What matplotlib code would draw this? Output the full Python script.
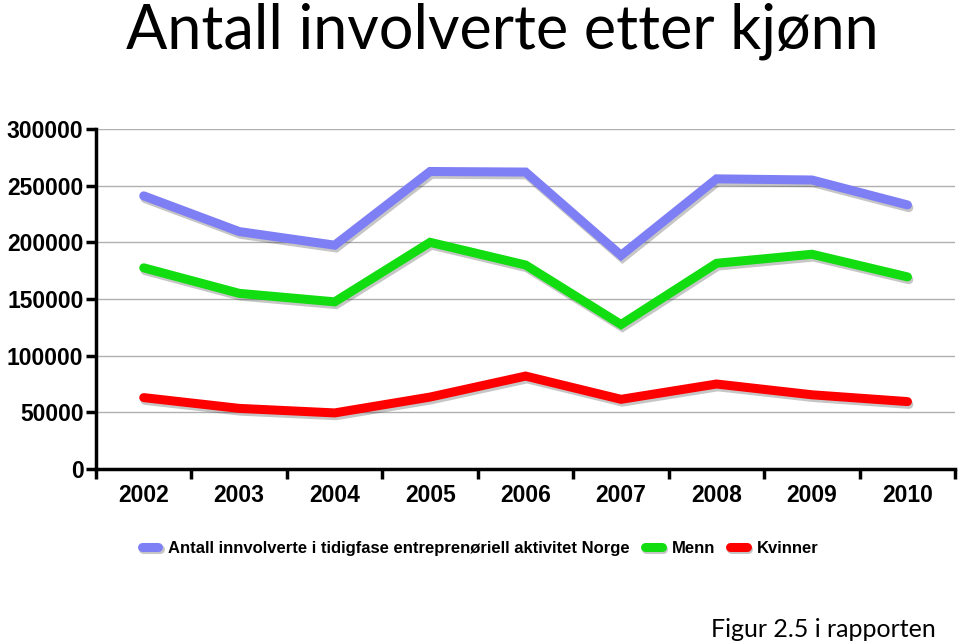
import matplotlib
matplotlib.use("Agg")
import matplotlib.pyplot as plt
import matplotlib.patheffects as pe

years = ["2002", "2003", "2004", "2005", "2006", "2007", "2008", "2009", "2010"]
total = [241000, 209500, 197500, 262500, 262000, 188500, 256000, 255000, 233000]
menn = [177500, 155000, 147500, 200000, 180000, 127500, 181500, 189500, 169500]
kvinner = [63000, 53500, 49500, 63500, 82000, 61500, 75000, 65500, 59500]
series_labels = ["Antall innvolverte i tidigfase entreprenøriell aktivitet Norge", "Menn", "Kvinner"]
colors = ["#7f7ff5", "#11dd11", "#ff0000"]
yticks = [0, 50000, 100000, 150000, 200000, 250000, 300000]

fig = plt.figure(figsize=(9.6, 6.44), dpi=100)
ax = fig.add_axes([0.1, 0.2717, 0.895, 0.528])

x = list(range(len(years)))
shadow = [pe.SimpleLineShadow(offset=(1.0, -2.0), shadow_color="#333333", alpha=0.28), pe.Normal()]
handles = []
for vals, c, lab in zip([total, menn, kvinner], colors, series_labels):
    h, = ax.plot(x, vals, color=c, lw=6.5, solid_capstyle="round", solid_joinstyle="miter",
                 label=lab, path_effects=shadow, zorder=3)
    handles.append(h)

ax.set_xlim(-0.5, len(years) - 0.5)
ax.set_ylim(0, 300000)
ax.set_yticks(yticks)
ax.set_yticklabels([str(v) for v in yticks], fontfamily="Liberation Sans", fontweight="bold", fontsize=16.5)
ax.yaxis.grid(True, color="#b0b0b0", lw=1)
ax.set_axisbelow(True)

ax.set_xticks([i - 0.5 for i in range(len(years) + 1)])
ax.set_xticklabels([])
ax.set_xticks(x, minor=True)
ax.set_xticklabels(years, minor=True, fontfamily="Liberation Sans", fontweight="bold", fontsize=16.5)
ax.tick_params(axis="x", which="major", length=7, width=2.5, direction="out")
ax.tick_params(axis="x", which="minor", length=0, pad=11)
ax.tick_params(axis="y", length=7, width=2.5, direction="out", pad=2)

for s in ["top", "right"]:
    ax.spines[s].set_visible(False)
for s in ["left", "bottom"]:
    ax.spines[s].set_linewidth(2.5)
    ax.spines[s].set_color("black")

leg = fig.legend(handles=handles, labels=series_labels, loc="center", bbox_to_anchor=(0.5, 0.149),
                 ncol=3, frameon=False, handlelength=1.0, columnspacing=0.9, handletextpad=0.6,
                 prop={"family": "Liberation Sans", "weight": "bold", "size": 12})

fig.text(0.523, 0.951, "Antall involverte etter kjønn", ha="center", va="center",
         fontfamily="Lato", fontsize=44)
fig.text(0.975, 0.022, "Figur 2.5 i rapporten", ha="right", va="center",
         fontfamily="Lato", fontsize=18)

fig.savefig("out.png", dpi=100)
